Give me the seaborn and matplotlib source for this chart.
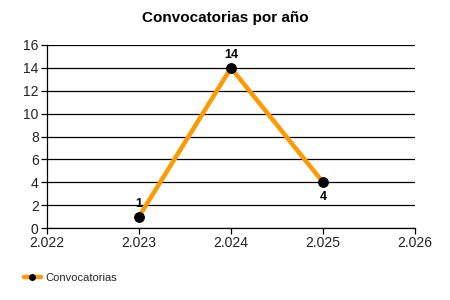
import matplotlib
matplotlib.use("Agg")
import matplotlib.pyplot as plt
import seaborn as sns
import pandas as pd
from matplotlib.ticker import FuncFormatter

years = [2023, 2024, 2025]
counts = [1, 14, 4]
series_name = "Convocatorias"
title = "Convocatorias por año"

sns.set_theme(style="white")
plt.rcParams['font.family'] = ['Liberation Sans', 'DejaVu Sans']

df = pd.DataFrame({"year": years, "count": counts})

fig = plt.figure(figsize=(4.5, 3), dpi=100)
ax = fig.add_axes([47/450, 1-228/300, (415-47)/450, (228-45)/300])

sns.lineplot(data=df, x="year", y="count", ax=ax, color="#FF9900", linewidth=3.2,
             marker="o", markersize=7, markerfacecolor="black", markeredgecolor="black",
             label=series_name, legend=False)

ax.set_xlim(2022, 2026)
ax.set_ylim(0, 16)
ax.set_xticks([2022, 2023, 2024, 2025, 2026])
ax.set_yticks(range(0, 17, 2))
ax.xaxis.set_major_formatter(FuncFormatter(lambda v, p: f"{v/1000:.3f}"))
ax.grid(axis="y", color="black", linewidth=0.9)
ax.set_axisbelow(True)
for s in ["top", "right"]:
    ax.spines[s].set_visible(False)
for s in ["left", "bottom"]:
    ax.spines[s].set_color("black")
    ax.spines[s].set_linewidth(0.9)
ax.tick_params(axis="both", which="major", direction="out", length=4, width=0.9,
               color="black", labelsize=10, labelcolor="#222222", bottom=True, left=True, pad=2)
ax.set_xlabel("")
ax.set_ylabel("")

offsets = {0: (0, 5, "center", "bottom"), 1: (0, 5, "center", "bottom"), 2: (0, -6, "center", "top")}
for i, (x, y) in enumerate(zip(years, counts)):
    dx, dy, ha, va = offsets[i]
    ax.annotate(str(y), (x, y), xytext=(dx, dy), textcoords="offset points",
                ha=ha, va=va, fontsize=9, fontweight="bold", color="black")

fig.text(0.5, 1-18/300, title, ha="center", va="center", fontsize=11, fontweight="bold", color="black")

h, = ax.plot([], [], color="#FF9900", linewidth=3.2, marker="o", markersize=4,
             markerfacecolor="black", markeredgecolor="black")
fig.legend([h], [series_name], loc="center left", bbox_to_anchor=(0.03, 1-278/300),
           frameon=False, fontsize=8, handlelength=1.6, handletextpad=0.4)

fig.savefig("out.png", dpi=100)
